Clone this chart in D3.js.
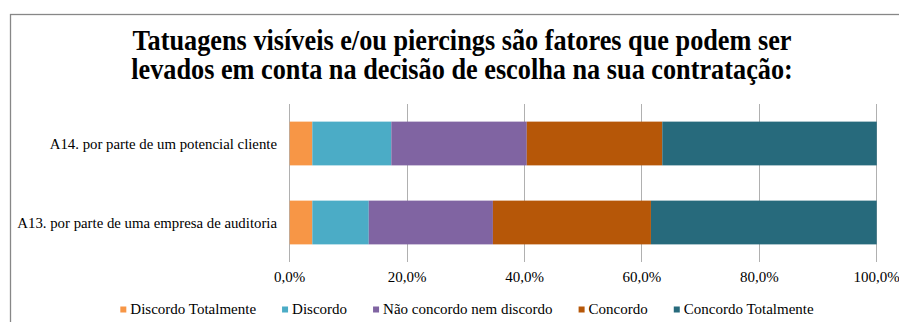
<!DOCTYPE html>
<html>
<head>
<meta charset="utf-8">
<script src="https://cdn.jsdelivr.net/npm/d3@7"></script>
<style>
  html, body { margin: 0; padding: 0; background: #fff; }
  svg { display: block; }
  text { font-family: "Liberation Serif", "Times New Roman", serif; fill: #000; }
</style>
</head>
<body>
<svg id="chart" width="899" height="322"></svg>
<script>
// Survey items (top to bottom)
const categories = [
  "A14. por parte de um potencial cliente",
  "A13. por parte de uma empresa de auditoria"
];
// Answer scale, in stacking order
const seriesNames = [
  "Discordo Totalmente",
  "Discordo",
  "Não concordo nem discordo",
  "Concordo",
  "Concordo Totalmente"
];
// Share of answers (%) per item, one array per answer option
const discordoTotalmente = [3.85, 3.85];
const discordo           = [13.46, 9.62];
const naoConcordo        = [23.08, 21.15];
const concordo           = [23.08, 26.92];
const concordoTotalmente = [36.54, 38.46];
const tickValues = [0, 20, 40, 60, 80, 100];
const titleLines = [
  "Tatuagens visíveis e/ou piercings são fatores que podem ser",
  "levados em conta na decisão de escolha na sua contratação:"
];

const colors = ["#F79646", "#4BACC6", "#8064A2", "#B65708", "#276A7C"];

const svg = d3.select("#chart");
const W = 899, H = 322;

// outer chart frame (only top and left edges fall inside the view)
svg.append("rect")
  .attr("x", 10.5).attr("y", 14.5)
  .attr("width", W + 10).attr("height", H + 10)
  .attr("fill", "#fff").attr("stroke", "#878787").attr("stroke-width", 1.3);

// horizontal stretch/condense of rendered text
function stretch(sel, k) {
  sel.each(function () {
    const w = this.getComputedTextLength();
    d3.select(this).attr("textLength", w * k).attr("lengthAdjust", "spacingAndGlyphs");
  });
  return sel;
}

// title: tall, narrow bold face
const tl = svg.append("g").attr("text-anchor", "middle")
  .selectAll("text").data(titleLines).join("text")
  .attr("x", 462)
  .attr("y", (d, i) => 50 + i * 29)
  .attr("font-size", 29)
  .attr("font-weight", "bold")
  .text(d => d);
stretch(tl, 659 / tl.node().getComputedTextLength());

// scales
const x = d3.scaleLinear().domain([0, 100]).range([289.7, 876.7]);
const y = d3.scaleBand().domain(categories).range([104, 262])
  .paddingInner(0.446).paddingOuter(0.223);

// gridlines
svg.append("g").selectAll("line").data(tickValues).join("line")
  .attr("x1", d => x(d)).attr("x2", d => x(d))
  .attr("y1", 104).attr("y2", 262)
  .attr("stroke", "#b0b0b0").attr("stroke-width", 1)
  .attr("shape-rendering", "crispEdges");

// stacked bars
const table = categories.map((c, i) => ({
  cat: c,
  [seriesNames[0]]: discordoTotalmente[i],
  [seriesNames[1]]: discordo[i],
  [seriesNames[2]]: naoConcordo[i],
  [seriesNames[3]]: concordo[i],
  [seriesNames[4]]: concordoTotalmente[i]
}));
const stacked = d3.stack().keys(seriesNames)(table);

svg.append("g").selectAll("g").data(stacked).join("g")
  .attr("fill", (d, i) => colors[i])
  .selectAll("rect").data(d => d).join("rect")
  .attr("x", d => x(d[0]))
  .attr("width", d => x(d[1]) - x(d[0]))
  .attr("y", d => y(d.data.cat))
  .attr("height", y.bandwidth());

// category labels
svg.append("g").attr("text-anchor", "end")
  .selectAll("text").data(categories).join("text")
  .attr("x", 277)
  .attr("y", d => y(d) + y.bandwidth() / 2 + 5)
  .attr("font-size", 14.8)
  .text(d => d);

// value axis labels
const fmt = v => d3.format(".1f")(v).replace(".", ",") + "%";
svg.append("g").attr("text-anchor", "middle")
  .selectAll("text").data(tickValues).join("text")
  .attr("x", d => x(d))
  .attr("y", 282)
  .attr("font-size", 15)
  .text(d => fmt(d));

// legend
const legend = svg.append("g");
const items = legend.selectAll("g").data(seriesNames).join("g");
items.append("rect")
  .attr("width", 6).attr("height", 6)
  .attr("y", 306.5)
  .attr("fill", (d, i) => colors[i]);
const legendTexts = items.append("text")
  .attr("x", 10)
  .attr("y", 314)
  .attr("font-size", 15)
  .text(d => d);
let offsets = [], cursor = 0;
legendTexts.each(function () {
  offsets.push(cursor);
  cursor += 10 + this.getComputedTextLength() + 26;
});
const total = cursor - 26;
const startX = 467 - total / 2;
items.attr("transform", (d, i) => `translate(${startX + offsets[i]},0)`);
</script>
</body>
</html>
